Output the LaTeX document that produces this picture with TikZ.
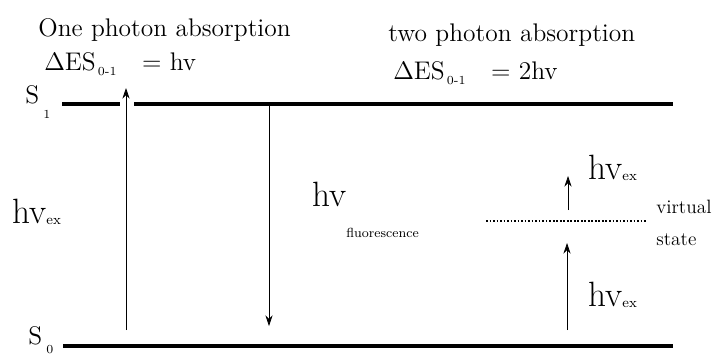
\documentclass[tikz,border=0pt]{standalone}
\usepackage{tikz}
\usetikzlibrary{arrows.meta}
\usepackage{amsmath}

\begin{document}
\begin{tikzpicture}[x=0.02cm, y=-0.02cm, >={Stealth[length=6pt,width=4pt]},
  level/.style={line width=2.8pt},
  trans/.style={thin, ->},
  lbl/.style={font=\fontsize{14.5}{16}\selectfont, inner sep=0pt},
  hvtxt/.style={font=\fontsize{20}{22}\selectfont, inner sep=0pt}]
  \useasboundingbox (0,0) rectangle (714,356);

  %% energy levels
  \coordinate (s1a) at (62,104);  \coordinate (s1b) at (120,104);
  \coordinate (s1c) at (134,104); \coordinate (s1d) at (673,104);
  \coordinate (s0a) at (63,346);  \coordinate (s0d) at (673,346);
  \draw[level] (s1a) -- (s1b);
  \draw[level] (s1c) -- (s1d);
  \draw[level] (s0a) -- (s0d);
  \node[lbl, anchor=west] (S1) at (25,102) {S\,\raisebox{-1.3ex}{\fontsize{7}{8}\selectfont 1}};
  \node[lbl, anchor=west] (S0) at (28,340) {S\,\raisebox{-0.8ex}{\fontsize{7}{8}\selectfont 0}};

  %% one photon absorption
  \node[lbl, anchor=west] (one) at (38,30) {One photon absorption};
  \node[lbl, anchor=west] (dE1) at (44,64)
    {$\Delta$ES\raisebox{-0.4ex}{\fontsize{7}{8}\selectfont\,0-1}\quad= hv};
  \coordinate (ex0) at (126,330);
  \coordinate (ex1) at (126,88);
  \draw[trans] (ex0) -- (ex1);
  \node[hvtxt, anchor=west] (hvex) at (12,212)
    {hv\raisebox{-0.1ex}{\fontsize{8}{9}\selectfont ex}};

  %% fluorescence
  \coordinate (fl1) at (269,106);
  \coordinate (fl0) at (269,326);
  \draw[trans] (fl1) -- (fl0);
  \node[hvtxt, anchor=west] (hvfl) at (312,210)
    {hv\raisebox{-2.0ex}{\fontsize{7.5}{8}\selectfont fluorescence}};

  %% two photon absorption
  \node[lbl, anchor=west] (two) at (388,35) {two photon absorption};
  \node[lbl, anchor=west] (dE2) at (393,73)
    {$\Delta$ES\raisebox{-0.4ex}{\fontsize{7}{8}\selectfont\,0-1}\quad= 2hv};
  \coordinate (vsa) at (486,221);
  \coordinate (vsb) at (647,221);
  \draw[densely dotted, line width=1pt] (vsa) -- (vsb);
  \node[font=\fontsize{11}{13}\selectfont, anchor=west, inner sep=0pt] (virt) at (656,207) {virtual};
  \node[font=\fontsize{11}{13}\selectfont, anchor=west, inner sep=0pt] (stat) at (656,240) {state};
  \coordinate (tp0) at (567,330);
  \coordinate (tp1) at (567,243);
  \coordinate (tp2) at (568,210);
  \coordinate (tp3) at (568,176);
  \draw[trans] (tp0) -- (tp1);
  \draw[trans] (tp2) -- (tp3);
  \node[hvtxt, anchor=west] (hvex2) at (588,168)
    {hv\raisebox{-0.1ex}{\fontsize{8}{9}\selectfont ex}};
  \node[hvtxt, anchor=west] (hvex1) at (588,295)
    {hv\raisebox{-0.1ex}{\fontsize{8}{9}\selectfont ex}};
\end{tikzpicture}
\end{document}
